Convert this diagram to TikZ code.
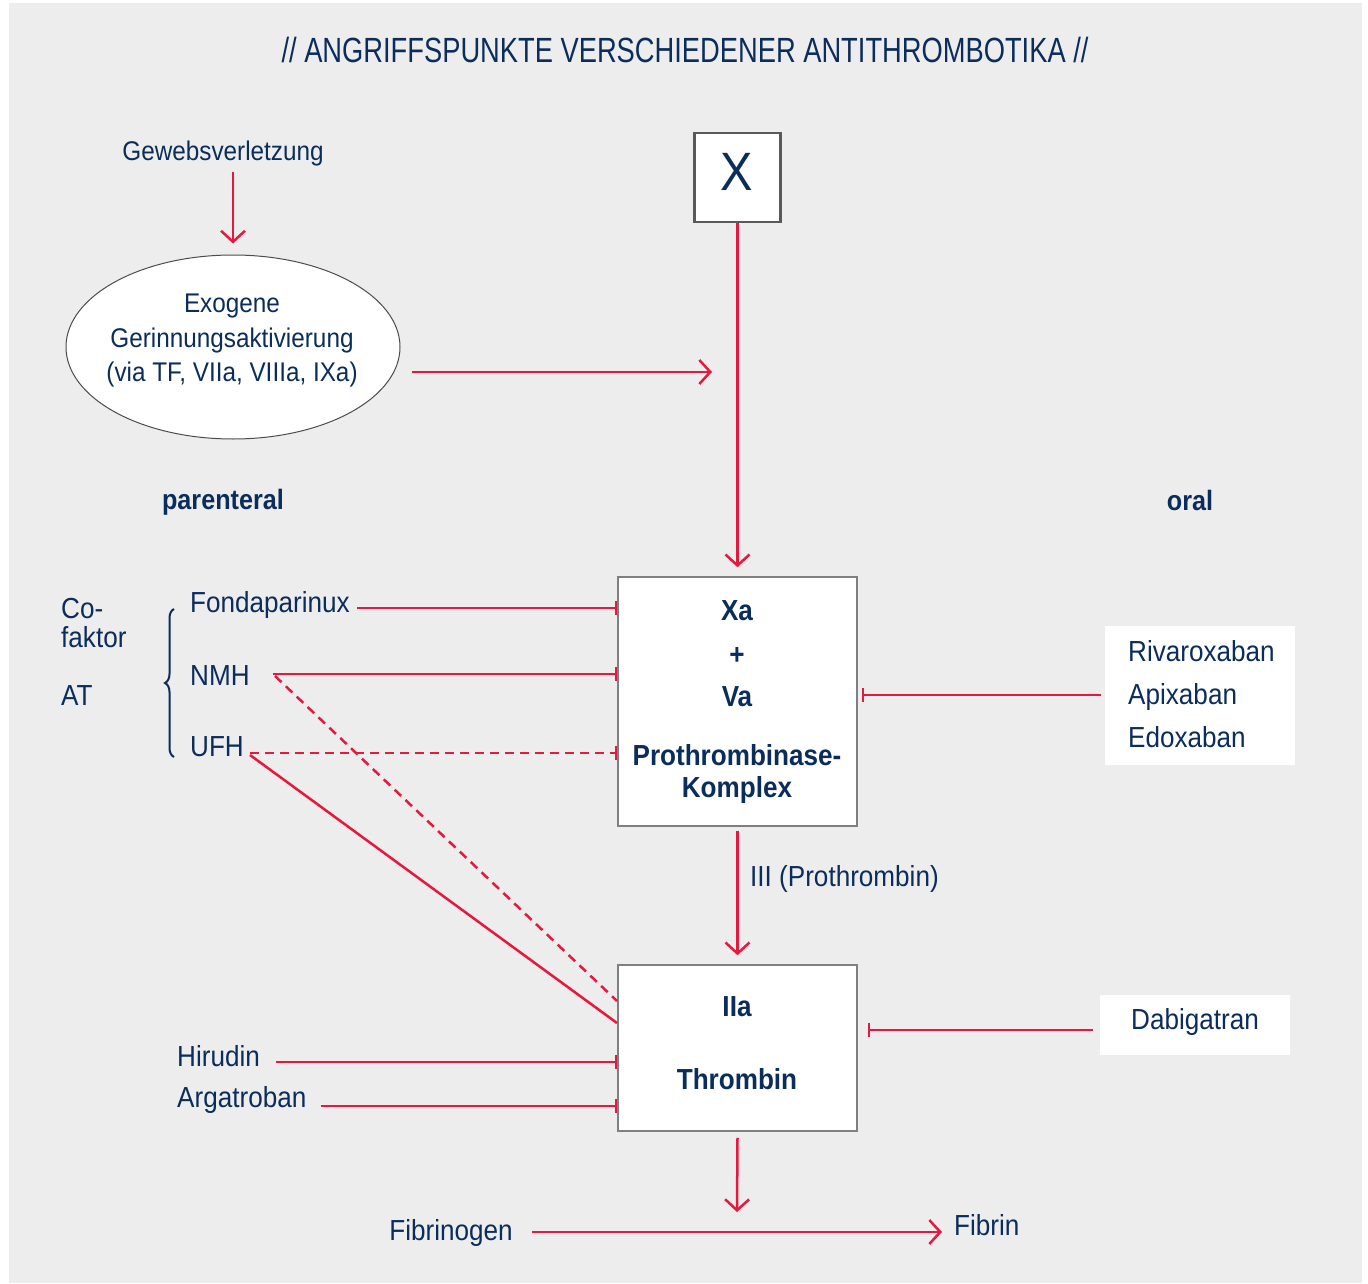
\documentclass[tikz,border=0pt]{standalone}
\usepackage{fontspec}
\setmainfont{Liberation Sans}[FakeStretch=0.90]
\newfontfamily\titlefont{Liberation Sans}[FakeStretch=0.78]
\usetikzlibrary{arrows.meta,decorations.pathreplacing,shapes.geometric}
\definecolor{navy}{HTML}{0B2D5B}
\definecolor{rd}{HTML}{E4193D}
\definecolor{bg}{HTML}{EDEDED}
\definecolor{bx}{HTML}{7F7F7F}
\tikzset{
  txt/.style={text=navy,inner sep=0pt,font=\fontsize{29}{34}\selectfont},
  small/.style={text=navy,inner sep=0pt,font=\fontsize{27}{34}\selectfont},
  bld/.style={text=navy,inner sep=0pt,font=\fontsize{29}{34}\selectfont\bfseries},
  box/.style={draw=bx,line width=1.6pt,fill=white},
  arr/.style={draw=rd,line width=2.5pt,-{Straight Barb[length=11pt,width=24pt,line width=2.5pt]}},
  inh/.style={draw=rd,line width=2.5pt,-{Bar[width=14pt,line width=2.5pt]}},
  inhd/.style={inh,dash pattern=on 9pt off 6pt},
  ln/.style={draw=rd,line width=2.5pt},
  lnd/.style={ln,dash pattern=on 9pt off 6pt},
}
\begin{document}
\begin{tikzpicture}[x=1pt,y=-1pt]
\useasboundingbox (0,0) rectangle (1368,1284);
\fill[white] (0,0) rectangle (1368,1284);
\fill[bg] (9,3) rectangle (1362,1283);
% title
\node[txt,font=\titlefont\fontsize{35}{40}\selectfont] (title) at (685,50) {// ANGRIFFSPUNKTE VERSCHIEDENER ANTITHROMBOTIKA //};
% Gewebsverletzung
\node[small] (gew) at (223,154) {Gewebsverletzung};
\coordinate (gewA) at (233,172);
\node[ellipse,box,draw=black!70,line width=1pt,minimum width=334pt,minimum height=184pt] (exo) at (233,347) {};
\node[small,align=center,font=\fontsize{27}{34.5}\selectfont] (exot) at (232,341) {Exogene\\Gerinnungsaktivierung\\(via TF, VIIa, VIIIa, IXa)};
\draw[arr] (gewA) -- ([yshift=11pt]exo.north);
% X box
\node[box,draw=black!65,line width=2.5pt,minimum width=86pt,minimum height=89pt,inner sep=0pt] (X) at (737.5,177.5) {};
\node[txt,font=\fontsize{54}{60}\selectfont] (Xt) at (737,172) {X};
% Xa box
\node[box,minimum width=239pt,minimum height=249pt] (xa) at (737.5,701.5) {};
\node[bld] (xat) at (737,611) {Xa};
\node[bld] (plus) at (737,656) {+};
\node[bld] (vat) at (737,697) {Va};
\node[bld] (prot) at (737,755) {Prothrombinase-};
\node[bld] (kompl) at (737,790) {Komplex};
\draw[arr] (X.south) -- ([yshift=9pt]xa.north);
% exogenous arrow
\coordinate (exoS) at (412,372);
\coordinate (exoE) at (712,372);
\draw[arr] (exoS) -- (exoE);
% parenteral / oral
\node[bld,font=\fontsize{28}{34}\selectfont\bfseries] (par) at (223,502) {parenteral};
\node[bld,font=\fontsize{28}{34}\selectfont\bfseries] (oral) at (1190,500) {oral};
% Cofaktor
\node[txt,anchor=west,align=left,font=\fontsize{29}{29}\selectfont] (cof) at (61,623) {Co-\\faktor};
\node[txt,anchor=west] (at) at (61,696) {AT};
\draw[navy,line width=2pt,decorate,decoration={brace,amplitude=9pt,aspect=0.5}] (174,757) -- (174,609);
\node[txt,anchor=west] (fonda) at (190,605) {Fondaparinux};
\node[txt,anchor=west] (nmh) at (190,676) {NMH};
\node[txt,anchor=west] (ufh) at (190,747) {UFH};
\coordinate (fS) at (357,608);
\coordinate (nS) at (273,674);
\coordinate (nD) at (275,676);
\coordinate (uS) at (250,753);
\coordinate (uL) at (250,755);
\draw[inh] (fS) -- (fS -| xa.west) ;
\draw[inh] (nS) -- (nS -| xa.west);
\draw[inhd] (uS) -- (uS -| xa.west);
% right side Xa inhibitors
\node[fill=white,minimum width=190pt,minimum height=139pt,inner sep=0pt] (rbox) at (1200,695.5) {};
\node[txt,anchor=west] (riv) at (1128,651) {Rivaroxaban};
\node[txt,anchor=west] (api) at (1128,697) {Apixaban};
\node[txt,anchor=west] (edo) at (1128,737) {Edoxaban};
\coordinate (rS) at (1101,695);
\draw[inh,shorten >=4pt] (rS) -- (rS -| xa.east);
% IIa box
\node[box,minimum width=239pt,minimum height=166pt] (iia) at (737.5,1048) {};
\node[bld] (iiat) at (737,1007) {IIa};
\node[bld] (thr) at (737,1079) {Thrombin};
\draw[arr] ([yshift=-4pt]xa.south) -- ([yshift=9pt]iia.north);
\node[txt,anchor=west] (pro) at (750,879) {III (Prothrombin)};
% lines from NMH / UFH to IIa
\coordinate (iD) at (617,1001);
\coordinate (iL) at (617,1023);
\draw[lnd] (nD) -- (iD);
\draw[ln] (uL) -- (iL);
% Hirudin, Argatroban
\node[txt,anchor=west] (hir) at (177,1056) {Hirudin};
\node[txt,anchor=west] (arg) at (177,1100) {Argatroban};
\coordinate (hS) at (276,1062);
\coordinate (aS) at (321,1106);
\draw[inh] (hS) -- (hS -| iia.west);
\draw[inh] (aS) -- (aS -| iia.west);
% Dabigatran
\node[fill=white,minimum width=190pt,minimum height=60pt,inner sep=0pt] (dbox) at (1195,1025) {};
\node[txt] (dab) at (1195,1022) {Dabigatran};
\coordinate (dS) at (1093,1030);
\draw[inh,shorten >=10pt] (dS) -- (dS -| iia.east);
% Fibrin
\coordinate (fibA) at (737,1212);
\draw[arr] ([yshift=-6pt]iia.south) -- (fibA);
\node[txt] (fbg) at (451,1233) {Fibrinogen};
\node[txt,anchor=west] (fbn) at (954,1225) {Fibrin};
\coordinate (fbS) at (532,1232);
\coordinate (fbE) at (942,1232);
\draw[arr] (fbS) -- (fbE);
\end{tikzpicture}
\end{document}
